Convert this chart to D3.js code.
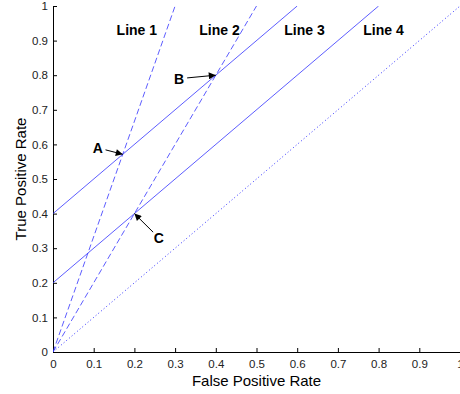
<!DOCTYPE html>
<html><head><meta charset="utf-8">
<script src="https://cdn.jsdelivr.net/npm/d3@7"></script>
<style>body{margin:0;background:#fff}svg{display:block}text{font-family:Arial,"Liberation Sans",sans-serif}</style>
</head><body>
<svg id="c" width="460" height="394"></svg>
<script>
// Data
const xTicks = [0,0.1,0.2,0.3,0.4,0.5,0.6,0.7,0.8,0.9,1];
const yTicks = [0,0.1,0.2,0.3,0.4,0.5,0.6,0.7,0.8,0.9,1];
const lineNames = ["Line 1","Line 2","Line 3","Line 4","Diagonal"];
const lineStart = [[0,0],[0,0],[0,0.4],[0,0.2],[0,0]];
const lineEnd = [[0.3,1],[0.5,1],[0.6,1],[0.8,1],[1,1]];
const lineDash = ["6,3","6,3",null,null,"1,2.5"];
const labelPos = [[0.206,0.93],[0.409,0.93],[0.618,0.93],[0.812,0.93]];
const points = ["A","B","C"];
const pointXY = [[0.1714,0.5714],[0.4,0.8],[0.2,0.4]];
const pointLabelXY = [[0.11,0.59],[0.31,0.79],[0.26,0.33]];

const svg = d3.select("#c");
const m = {l:53, r:460, t:6, b:352};
const x = d3.scaleLinear().domain([0,1]).range([m.l, m.r]);
const y = d3.scaleLinear().domain([0,1]).range([m.b, m.t]);

svg.append("defs").append("clipPath").attr("id","cp").append("rect")
  .attr("x",m.l).attr("y",m.t).attr("width",m.r-m.l).attr("height",m.b-m.t);
const mk = svg.select("defs").append("marker").attr("id","ah")
  .attr("viewBox","0 0 10 10").attr("refX",10).attr("refY",5)
  .attr("markerWidth",9).attr("markerHeight",7).attr("markerUnits","userSpaceOnUse")
  .attr("orient","auto");
mk.append("path").attr("d","M0,0L10,5L0,10z").attr("fill","#000");

// Axes
const fmt = d=>d===0?"0":(d===1?"1":d3.format(".1f")(d));
const xa = svg.append("g").attr("transform",`translate(0,${m.b})`)
  .call(d3.axisBottom(x).tickValues(xTicks).tickSizeInner(-4).tickSizeOuter(0).tickPadding(8).tickFormat(fmt));
const ya = svg.append("g").attr("transform",`translate(${m.l},0)`)
  .call(d3.axisLeft(y).tickValues(yTicks).tickSizeInner(-4).tickSizeOuter(0).tickPadding(5).tickFormat(fmt));
[xa,ya].forEach(a=>{
  a.select(".domain").attr("stroke","#000");
  a.selectAll(".tick line").attr("stroke","#000");
  a.selectAll(".tick text").attr("font-size",11.5).attr("fill","#222").attr("font-family","Arial,'Liberation Sans',sans-serif");
});

// Lines
const g = svg.append("g").attr("clip-path","url(#cp)");
lineNames.forEach((n,i)=>{
  g.append("line")
    .attr("x1",x(lineStart[i][0])).attr("y1",y(lineStart[i][1]))
    .attr("x2",x(lineEnd[i][0])).attr("y2",y(lineEnd[i][1]))
    .attr("stroke","#3333ff").attr("stroke-width",lineDash[i]==="1,2.5"?1:0.8)
    .attr("stroke-dasharray",lineDash[i]);
});

// Line labels
labelPos.forEach((p,i)=>{
  svg.append("text").attr("x",x(p[0])).attr("y",y(p[1])+5)
    .attr("text-anchor","middle").attr("font-size",14).attr("font-weight","bold")
    .text(lineNames[i]);
});

// Point annotations
points.forEach((p,i)=>{
  const lx = x(pointLabelXY[i][0]), ly = y(pointLabelXY[i][1]);
  const px = x(pointXY[i][0]), py = y(pointXY[i][1]);
  svg.append("text").attr("x",lx).attr("y",ly+5).attr("text-anchor","middle")
    .attr("font-size",14).attr("font-weight","bold").text(p);
  const dx = px-lx, dy = py-ly, L = Math.hypot(dx,dy);
  const sx = lx + dx/L*8, sy = ly + dy/L*8;
  svg.append("line").attr("x1",sx).attr("y1",sy).attr("x2",px).attr("y2",py)
    .attr("stroke","#000").attr("stroke-width",1).attr("marker-end","url(#ah)");
});

// Axis titles
svg.append("text").attr("x",(m.l+m.r)/2).attr("y",386).attr("text-anchor","middle")
  .attr("font-size",15).text("False Positive Rate");
svg.append("text").attr("transform",`translate(26,${(m.t+m.b)/2}) rotate(-90)`)
  .attr("text-anchor","middle").attr("font-size",15).text("True Positive Rate");
</script>
</body></html>
